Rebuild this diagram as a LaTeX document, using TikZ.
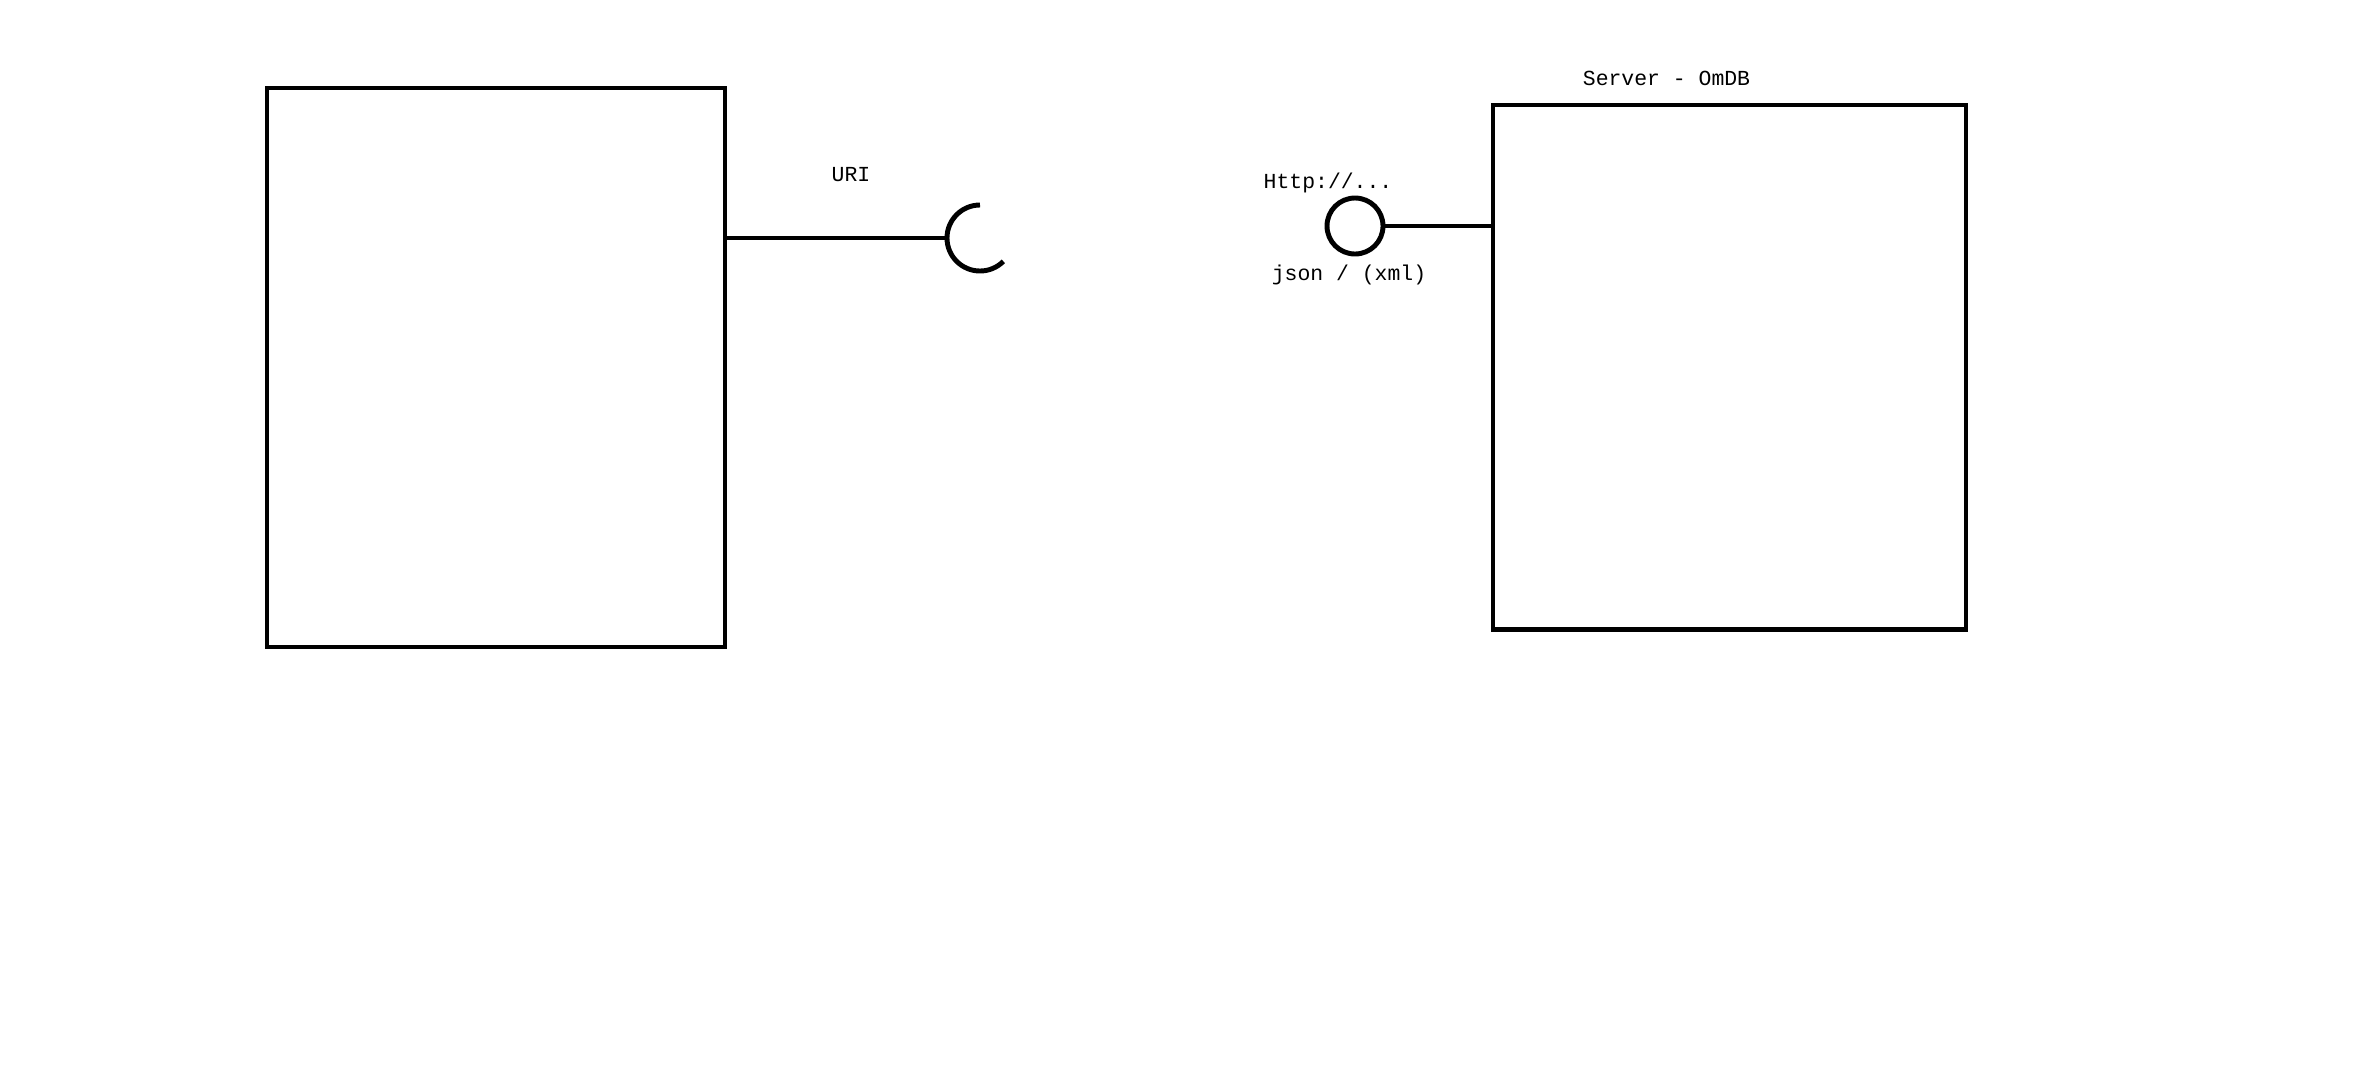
\documentclass[tikz,border=0pt]{standalone}
\usepackage{fontspec}
\setmonofont{Liberation Mono}
\usetikzlibrary{calc,positioning}
\tikzset{
  comp/.style={draw,line width=1.4pt,inner sep=0pt},
  wire/.style={line width=1.4pt},
  lbl/.style={font=\ttfamily\fontsize{6.1}{7}\selectfont,inner sep=0pt}
}

\begin{document}
\begin{tikzpicture}
  \useasboundingbox (0,0) rectangle (23.75,-10.79);
  \node[comp,minimum width=4.58cm,minimum height=5.59cm] (client) at (4.96,-3.675) {};
  \node[comp,minimum width=4.73cm,minimum height=5.245cm] (omdb) at (17.295,-3.6725) {};
  \node[lbl] (srvname) at (16.665,-0.78) {Server - OmDB};
  % required interface (socket)
  \coordinate (sock) at (9.47,-2.38);
  \draw[wire] (client.east |- sock) -- (sock);
  \draw[wire] (sock) arc[start angle=180,end angle=90,radius=0.33];
  \draw[wire] (sock) arc[start angle=180,end angle=315,radius=0.33];
  \node[lbl] (uri) at (8.51,-1.75) {URI};
  % provided interface (lollipop)
  \node[draw,circle,line width=1.4pt,minimum size=0.56cm,inner sep=0pt] (prov) at (13.55,-2.26) {};
  \draw[wire] (prov) -- (omdb.west |- prov);
  \node[lbl] (http) at (13.28,-1.83) {Http://...};
  \node[lbl] (fmt) at (13.49,-2.75) {json / (xml)};
\end{tikzpicture}
\end{document}
